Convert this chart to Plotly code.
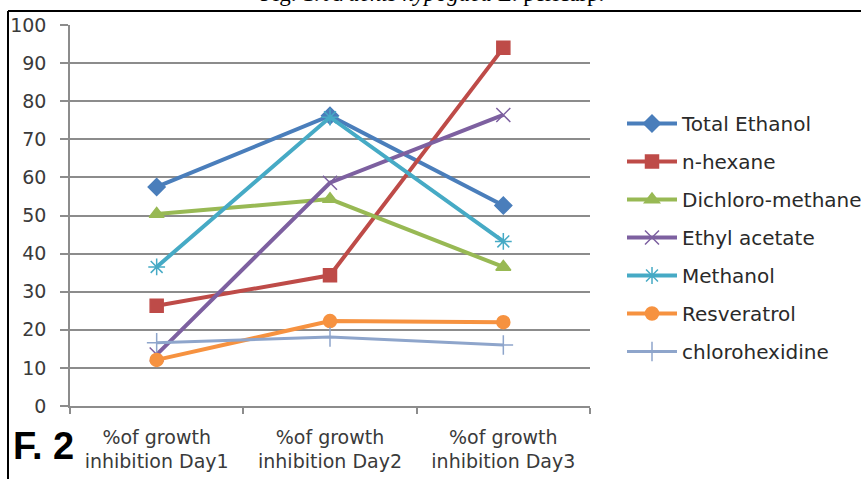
import plotly.graph_objects as go

# Categories and measured growth-inhibition values (%)
days = ["%of growth<br>inhibition Day1", "%of growth<br>inhibition Day2", "%of growth<br>inhibition Day3"]
total_ethanol = [57.5, 76.2, 52.6]
n_hexane = [26.3, 34.3, 94.0]
dichloro_methane = [50.4, 54.3, 36.5]
ethyl_acetate = [13.5, 58.6, 76.4]
methanol = [36.5, 75.8, 43.2]
resveratrol = [12.1, 22.3, 22.0]
chlorohexidine = [16.6, 18.1, 16.0]
y_ticks = [0, 10, 20, 30, 40, 50, 60, 70, 80, 90, 100]

series = [
    ("Total Ethanol", total_ethanol, "#4a7ebb", "diamond", 13, 4),
    ("n-hexane", n_hexane, "#be4b48", "square", 13, 4),
    ("Dichloro-methane", dichloro_methane, "#98b954", "triangle-up", 13, 4),
    ("Ethyl acetate", ethyl_acetate, "#7d60a0", "x-thin-open", 14, 4),
    ("Methanol", methanol, "#46aac5", "asterisk-open", 14, 4),
    ("Resveratrol", resveratrol, "#f69240", "circle", 13, 4),
    ("chlorohexidine", chlorohexidine, "#8ea5cb", "cross-thin-open", 14, 3),
]

fig = go.Figure()
for name, vals, color, sym, size, lw in series:
    fig.add_trace(go.Scatter(
        x=days, y=vals, name=name, mode="lines+markers",
        legendgroup=name,
        line=dict(color=color, width=lw),
        marker=dict(symbol=sym, size=size, color=color,
                    line=dict(color=color, width=1.5)),
    ))

L, R, T, B = 70, 271, 25, 73
W, H = 861, 479
pw, ph = W - L - R, H - T - B

def px(x):
    return (x - L) / pw

def py(y):
    return (H - B - y) / ph

fig.update_layout(
    width=W, height=H,
    margin=dict(l=L, r=R, t=T, b=B, autoexpand=False),
    paper_bgcolor="white", plot_bgcolor="white",
    font=dict(family="DejaVu Sans", size=18, color="#3a3a3a"),
    showlegend=True,
    legend=dict(
        x=px(622), y=py(104), xanchor="left", yanchor="top",
        font=dict(family="DejaVu Sans", size=20, color="#2a2a2a"),
        itemwidth=50, tracegroupgap=9, bgcolor="rgba(0,0,0,0)",
    ),
    xaxis=dict(
        type="category", tickson="boundaries",
        showgrid=False, showline=True, linecolor="#8c8c8c", linewidth=1.5,
        ticks="outside", ticklen=6, tickcolor="#8c8c8c", tickwidth=1.5,
        ticklabelstandoff=13,
        tickfont=dict(family="DejaVu Sans", size=19, color="#3a3a3a"),
        range=[-0.5, 2.5],
    ),
    yaxis=dict(
        range=[0, 100], tickvals=y_ticks,
        showgrid=True, gridcolor="#8c8c8c", gridwidth=1.5,
        showline=True, linecolor="#8c8c8c", linewidth=1.5,
        ticks="outside", ticklen=8, tickcolor="#8c8c8c", tickwidth=1.5,
        ticklabelstandoff=10, zeroline=False,
        tickfont=dict(family="DejaVu Sans", size=19, color="#3a3a3a"),
    ),
)

# Frame lines along the top and left edges
fig.add_shape(type="line", xref="paper", yref="paper",
              x0=px(8), x1=px(900), y0=py(11), y1=py(11),
              line=dict(color="black", width=2))
fig.add_shape(type="line", xref="paper", yref="paper",
              x0=px(8), x1=px(8), y0=py(11), y1=py(520),
              line=dict(color="black", width=2))

# Figure caption above the frame
fig.add_annotation(
    text="Fig. 1. <i>Arachis hypogaea</i> L. pericarp.",
    xref="paper", yref="paper", x=px(432), y=py(8),
    xanchor="center", yanchor="bottom", showarrow=False,
    font=dict(family="Liberation Serif", size=23, color="black"),
)

# Panel label
fig.add_annotation(
    text="<b>F. 2</b>", xref="paper", yref="paper",
    x=px(11), y=py(446), xanchor="left", yanchor="middle", showarrow=False,
    font=dict(family="Liberation Sans", size=38, color="black"),
)

fig.write_html("out.html")
